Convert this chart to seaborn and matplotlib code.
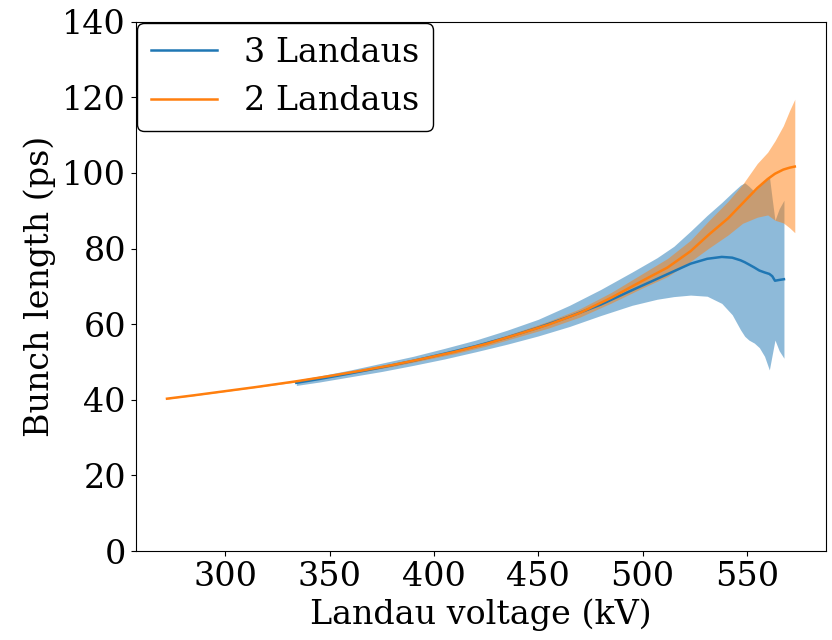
import matplotlib
matplotlib.use("Agg")
import matplotlib.pyplot as plt
from matplotlib.ticker import MultipleLocator
import seaborn as sns

# 3 Landaus: voltage (kV), bunch length (ps), spread band
x3 = [334, 345, 360, 375, 390, 405, 420, 435, 450, 465, 480, 495, 507, 515, 523, 531, 538, 543,
      547, 549, 551, 553.6, 556, 558.5, 560.8, 562.2, 563.5, 565.5, 567.8]
y3 = [44.5, 45.5, 47.0, 48.6, 50.3, 52.2, 54.2, 56.5, 59.1, 62.0, 65.2, 69.0, 72.0, 74.0, 76.0, 77.3, 77.8, 77.6,
      76.9, 76.4, 75.8, 75.0, 74.2, 73.7, 73.3, 72.7, 71.5, 71.7, 71.9]
lo3 = [43.8, 44.7, 46.1, 47.5, 49.1, 50.8, 52.7, 54.7, 56.9, 59.4, 62.3, 65.0, 66.6, 67.3, 67.7, 67.4, 65.5, 62.5,
       58.5, 56.8, 55.8, 55.0, 53.8, 51.5, 47.9, 52.0, 55.8, 53.0, 51.0]
hi3 = [45.2, 46.3, 47.9, 49.7, 51.5, 53.6, 55.8, 58.4, 61.3, 65.0, 69.2, 73.8, 77.6, 80.6, 84.6, 88.8, 92.2, 94.8,
       96.8, 97.4, 96.5, 95.1, 96.5, 98.0, 99.2, 93.0, 87.5, 90.5, 92.8]

# 2 Landaus
x2 = [272, 285, 300, 315, 334, 350, 365, 380, 395, 410, 425, 440, 455, 470, 485, 500, 512, 523, 532, 541,
      548, 555, 560, 563.5, 567.5, 570.5, 573]
y2 = [40.3, 41.2, 42.3, 43.4, 44.9, 46.3, 47.7, 49.2, 50.9, 52.7, 54.8, 57.3, 59.9, 63.0, 67.0, 71.5, 75.0, 79.3,
      83.8, 88.0, 92.0, 96.0, 98.4, 99.8, 100.9, 101.4, 101.7]
lo2 = [40.2, 41.1, 42.2, 43.3, 44.7, 46.0, 47.4, 48.8, 50.5, 52.2, 54.2, 56.6, 59.0, 61.9, 65.6, 69.6, 72.6, 76.6,
       80.2, 83.6, 86.7, 88.3, 88.9, 87.5, 86.8, 85.5, 84.2]
hi2 = [40.4, 41.3, 42.4, 43.5, 45.1, 46.6, 48.0, 49.6, 51.3, 53.2, 55.4, 58.0, 60.8, 64.1, 68.4, 73.4, 77.4, 82.2,
       87.5, 92.5, 97.0, 102.5, 105.5, 108.5, 112.5, 116.5, 119.5]

plt.rcParams['font.family'] = ['DejaVu Serif']
plt.rcParams['font.size'] = 24

fig, ax = plt.subplots(figsize=(8.32, 6.4), dpi=100)
fig.subplots_adjust(left=0.163, right=0.993, bottom=0.139, top=0.966)

# lines and shaded spread
sns.lineplot(x=x3, y=y3, color='C0', label='3 Landaus', ax=ax, linewidth=1.8)
ax.fill_between(x3, lo3, hi3, color='C0', alpha=0.5, linewidth=0)
sns.lineplot(x=x2, y=y2, color='C1', label='2 Landaus', ax=ax, linewidth=1.8)
ax.fill_between(x2, lo2, hi2, color='C1', alpha=0.5, linewidth=0)

ax.set_ylim(0, 140)
ax.xaxis.set_major_locator(MultipleLocator(50))
ax.set_xlabel('Landau voltage (kV)')
ax.set_ylabel('Bunch length (ps)')
ax.legend(loc='upper left', edgecolor='k', framealpha=1, borderaxespad=0.05)

plt.savefig('out.png', dpi=100)
